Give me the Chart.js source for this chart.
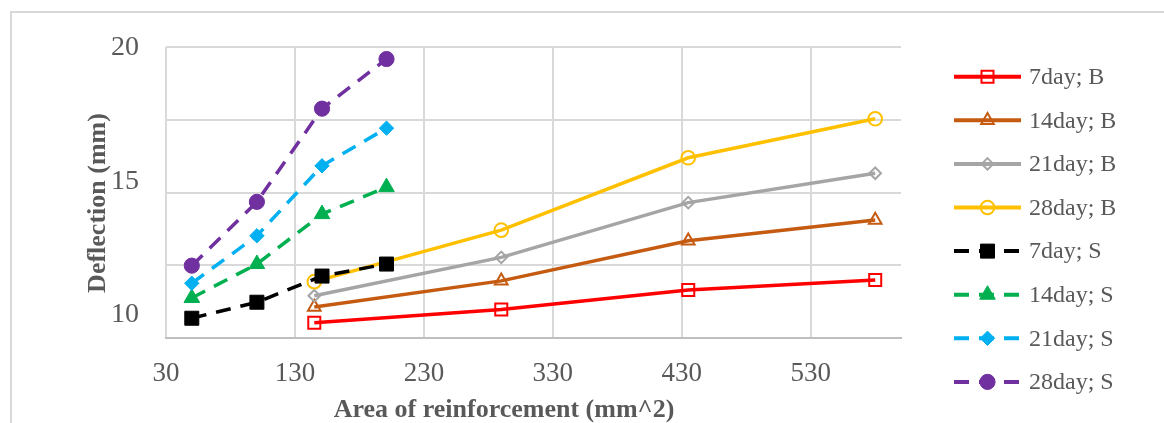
<!DOCTYPE html>
<html>
<head>
<meta charset="utf-8">
<script src="https://cdn.jsdelivr.net/npm/chart.js@4.4.0/dist/chart.umd.min.js"></script>
<style>
    html, body { margin: 0; padding: 0; background: #fff; }
    canvas { display: block; }
</style>
</head>
<body>
<canvas id="deflection_chart" width="1164" height="423"></canvas>
<script>
// values
var seriesNames = ["7day; B", "14day; B", "21day; B", "28day; B", "7day; S", "14day; S", "21day; S", "28day; S"];
var areaB = [145, 290, 435, 580];
var areaS = [50, 100.5, 151, 201];
var deflection7dayB = [9.71, 10.21, 10.94, 11.31];
var deflection14dayB = [10.30, 11.28, 12.78, 13.56];
var deflection21dayB = [10.72, 12.16, 14.21, 15.31];
var deflection28dayB = [11.25, 13.18, 15.89, 17.35];
var deflection7dayS = [9.88, 10.48, 11.46, 11.91];
var deflection14dayS = [10.64, 11.91, 13.78, 14.79];
var deflection21dayS = [11.19, 12.97, 15.59, 17.00];
var deflection28dayS = [11.85, 14.24, 17.73, 19.59];
var xTickLabels = [30, 130, 230, 330, 430, 530];
var yTickLabels = [10, 15, 20];

var yMin = 9.14, yMax = 20.04;
var textColor = '#595959';
var serif = "'Liberation Serif', 'Times New Roman', serif";

function toPoints(xs, ys) {
    return xs.map(function (x, i) { return {x: x, y: ys[i]}; });
}

function makeDataset(index, xs, ys, color, style, radius, filled, dashed) {
    return {
        label: seriesNames[index],
        data: toPoints(xs, ys),
        borderColor: color,
        backgroundColor: filled ? color : 'rgba(0,0,0,0)',
        borderWidth: 3.5,
        borderDash: dashed ? [15, 10] : [],
        pointStyle: style,
        pointRadius: radius,
        pointHoverRadius: radius,
        pointBorderColor: color,
        pointBackgroundColor: filled ? color : 'rgba(0,0,0,0)',
        pointBorderWidth: filled ? 1 : 2,
        tension: 0,
        fill: false,
        order: 8 - index
    };
}

var datasets = [
    makeDataset(0, areaB, deflection7dayB, '#ff0000', 'rect', 8.5, false, false),
    makeDataset(1, areaB, deflection14dayB, '#c55a11', 'triangle', 7.3, false, false),
    makeDataset(2, areaB, deflection21dayB, '#a5a5a5', 'rectRot', 5.8, false, false),
    makeDataset(3, areaB, deflection28dayB, '#ffc000', 'circle', 6.8, false, false),
    makeDataset(4, areaS, deflection7dayS, '#000000', 'rect', 9.9, true, true),
    makeDataset(5, areaS, deflection14dayS, '#00b050', 'triangle', 9, true, true),
    makeDataset(6, areaS, deflection21dayS, '#00b0f0', 'rectRot', 7.2, true, true),
    makeDataset(7, areaS, deflection28dayS, '#7030a0', 'circle', 7.6, true, true)
];

// outer frame, axis titles and the legend with line + marker samples
var frameLegendTitles = {
    id: 'frameLegendTitles',
    beforeDraw: function (chart) {
        var ctx = chart.ctx;
        ctx.save();
        ctx.fillStyle = '#ffffff';
        ctx.fillRect(0, 0, chart.width, chart.height);
        ctx.strokeStyle = '#d9d9d9';
        ctx.lineWidth = 2;
        ctx.strokeRect(11, 12, 1400, 600);
        ctx.restore();
    },
    afterDraw: function (chart) {
        var ctx = chart.ctx;
        ctx.save();
        ctx.fillStyle = textColor;
        ctx.font = "bold 26px " + serif;
        ctx.textAlign = 'center';
        ctx.textBaseline = 'middle';
        ctx.fillText("Area of reinforcement (mm^2)", 504, 410);
        ctx.translate(98, 203);
        ctx.rotate(-Math.PI / 2);
        ctx.fillText("Deflection (mm)", 0, 0);
        ctx.restore();

        chart.data.datasets.forEach(function (ds, i) {
            var y = 76.7 + i * 43.6;
            ctx.save();
            ctx.strokeStyle = ds.borderColor;
            ctx.lineWidth = 4;
            ctx.setLineDash(ds.borderDash);
            ctx.beginPath();
            ctx.moveTo(954, y);
            ctx.lineTo(1021, y);
            ctx.stroke();
            ctx.setLineDash([]);
            ctx.fillStyle = ds.pointBackgroundColor;
            ctx.strokeStyle = ds.pointBorderColor;
            ctx.lineWidth = ds.pointBorderWidth;
            Chart.helpers.drawPoint(ctx, {
                pointStyle: ds.pointStyle,
                radius: ds.pointRadius,
                borderWidth: ds.pointBorderWidth,
                rotation: 0
            }, 987.5, y);
            ctx.fillStyle = textColor;
            ctx.font = "24px " + serif;
            ctx.textAlign = 'left';
            ctx.textBaseline = 'middle';
            ctx.fillText(ds.label, 1029, y + 1);
            ctx.restore();
        });
    }
};

var ctx = document.getElementById("deflection_chart").getContext('2d');
var chart = new Chart(ctx, {
    type: 'line',
    data: {datasets: datasets},
    plugins: [frameLegendTitles],
    options: {
        responsive: false,
        animation: false,
        devicePixelRatio: 1,
        layout: {padding: {left: 0, top: 47, right: 263, bottom: 0}},
        plugins: {legend: {display: false}, tooltip: {enabled: false}},
        scales: {
            x: {
                type: 'linear',
                min: 30,
                max: 600,
                afterBuildTicks: function (axis) {
                    axis.ticks = xTickLabels.map(function (v) { return {value: v}; });
                },
                afterFit: function (axis) { axis.height = 85; },
                grid: {color: '#d9d9d9', lineWidth: 2, drawTicks: false},
                border: {color: '#bfbfbf', width: 2},
                ticks: {
                    padding: 20, maxRotation: 0, autoSkip: false, color: textColor,
                    font: {family: serif, size: 27}
                }
            },
            y: {
                type: 'linear',
                position: 'left',
                min: yMin,
                max: yMax,
                afterBuildTicks: function (axis) {
                    axis.ticks = yTickLabels.map(function (v) { return {value: v}; });
                },
                afterFit: function (axis) { axis.width = 166; },
                grid: {display: false, drawTicks: false},
                border: {display: false},
                ticks: {padding: 27, color: textColor, font: {family: serif, size: 28}}
            },
            yGrid: {
                type: 'linear',
                position: 'right',
                min: yMin,
                max: yMax,
                afterBuildTicks: function (axis) {
                    var step = (yMax - yMin) / 4;
                    axis.ticks = [0, 1, 2, 3, 4].map(function (k) { return {value: yMin + k * step}; });
                },
                afterFit: function (axis) { axis.width = 0; },
                grid: {color: '#d9d9d9', lineWidth: 2, drawTicks: false},
                border: {display: false},
                ticks: {display: false}
            }
        }
    }
});
</script>
</body>
</html>
